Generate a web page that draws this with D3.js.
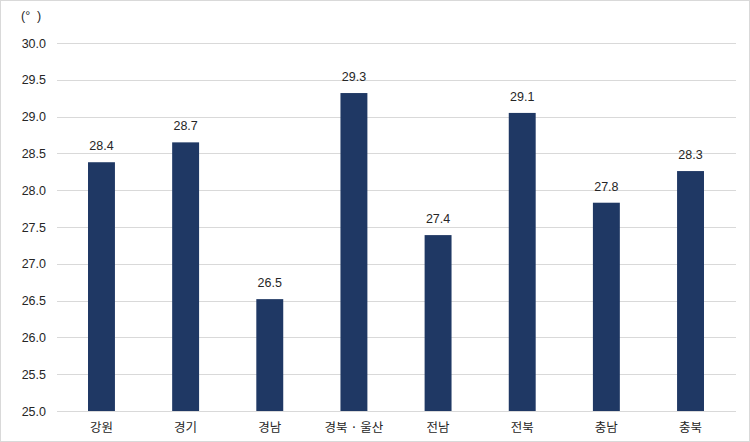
<!DOCTYPE html>
<html><head><meta charset="utf-8">
<script src="https://cdn.jsdelivr.net/npm/d3@7"></script>
<style>
html,body{margin:0;padding:0;background:#fff;}
svg{display:block;font-family:"Liberation Sans","Noto Sans CJK KR",Arial,sans-serif;}
</style></head><body>
<svg id="c" width="750" height="442"></svg>
<script>
const categories = ["강원","경기","경남","경북 · 울산","전남","전북","충남","충북"];
const values = [28.38, 28.65, 26.52, 29.32, 27.39, 29.05, 27.83, 28.26];
const labels = ["28.4","28.7","26.5","29.3","27.4","29.1","27.8","28.3"];
const yTicks = [25.0,25.5,26.0,26.5,27.0,27.5,28.0,28.5,29.0,29.5,30.0];
const unit = "(°  )";

const svg = d3.select("#c");
const W = 750, H = 442;
svg.append("rect").attr("x",0.5).attr("y",0.5).attr("width",W-1).attr("height",H-1)
  .attr("fill","#fff").attr("stroke","#d9d9d9");

const x = d3.scaleBand().domain(categories).range([59.4,732.6]).paddingInner(0.68).paddingOuter(0.34);
const y = d3.scaleLinear().domain([25,30]).range([411,43]);

// gridlines
svg.append("g").selectAll("line").data(yTicks).join("line")
  .attr("x1",57).attr("x2",736)
  .attr("y1",d=>Math.round(y(d))+0.5).attr("y2",d=>Math.round(y(d))+0.5)
  .attr("stroke","#d9d9d9").attr("stroke-width",1);

// y axis labels
const yAxis = d3.axisLeft(y).tickValues(yTicks).tickFormat(d3.format(".1f")).tickSize(0).tickPadding(0);
const ga = svg.append("g").attr("transform","translate(46,0)").call(yAxis);
ga.select(".domain").remove();
ga.selectAll("text").attr("font-size",12.5).attr("fill","#262626")
  .attr("font-family","\"Liberation Sans\",Arial,sans-serif");

// bars
svg.append("g").selectAll("rect").data(values).join("rect")
  .attr("x",(d,i)=>x(categories[i]))
  .attr("width",x.bandwidth())
  .attr("y",d=>y(d)).attr("height",d=>y(25)-y(d))
  .attr("fill","#1f3864");

// value labels
svg.append("g").selectAll("text").data(values).join("text")
  .attr("x",(d,i)=>x(categories[i])+x.bandwidth()/2)
  .attr("y",d=>y(d)-12)
  .attr("text-anchor","middle").attr("font-size",12.5).attr("fill","#262626")
  .text((d,i)=>labels[i]);

// x axis labels
const xAxis = d3.axisBottom(x).tickSize(0).tickPadding(0);
const gx = svg.append("g").attr("transform","translate(0,0)");
gx.selectAll("text").data(categories).join("text")
  .attr("x",d=>x(d)+x.bandwidth()/2).attr("y",432)
  .attr("text-anchor","middle").attr("font-size",12.5).attr("fill","#262626")
  .attr("font-family","\"Noto Sans CJK KR\",sans-serif")
  .text(d=>d);

// unit
svg.append("text").attr("x",21).attr("y",20).attr("font-size",12.5).attr("fill","#262626")
  .attr("xml:space","preserve").style("white-space","pre").text(unit);
</script>
</body></html>
